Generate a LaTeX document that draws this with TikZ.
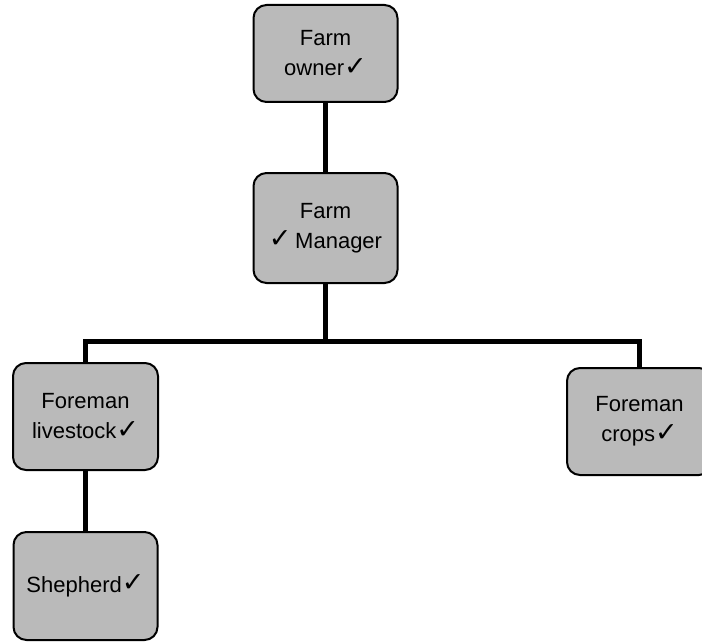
\documentclass[tikz,border=0pt]{standalone}
\usepackage{fontspec}
\setmainfont{Liberation Sans}
\newfontfamily\symfont{DejaVu Sans}
\newcommand{\tick}{{\symfont\fontsize{27}{27}\selectfont\raisebox{0.05ex}{✓}}}
\begin{document}
\begin{tikzpicture}[x=1pt,y=1pt,
  orgbox/.style={draw=black, line width=2pt, fill=black!27, rounded corners=13pt,
    minimum width=144pt, inner sep=0pt, align=center,
    font=\fontsize{22}{30}\selectfont},
  link/.style={line width=5pt}]
\useasboundingbox (0,0) rectangle (702,-642);
\begin{scope}
\clip (0,0) rectangle (702,-642);
\node[orgbox, minimum height=97pt] (owner) at (325.5,-53.5) {Farm\\owner\tick};
\node[orgbox, minimum height=110pt] (manager) at (325.5,-228) {Farm\\\tick\,Manager};
\node[orgbox, minimum height=107pt, minimum width=145pt] (livestock) at (85.5,-416.5) {Foreman\\livestock\tick};
\node[orgbox, minimum height=107pt, minimum width=145pt] (crops) at (639.5,-421.5) {Foreman\\crops\tick};
\node[orgbox, minimum height=108pt] (shepherd) at (85.5,-586) {Shepherd\tick};
\coordinate (bus) at (0,-341);
\draw[link] (owner.south) -- (manager.north);
\draw[link] (manager.south) -- (manager.south |- bus);
\draw[link] (livestock.north) -- (livestock.north |- bus) -- (crops.north |- bus) -- (crops.north);
\draw[link] (livestock.south) -- (shepherd.north);
\end{scope}
\end{tikzpicture}
\end{document}
